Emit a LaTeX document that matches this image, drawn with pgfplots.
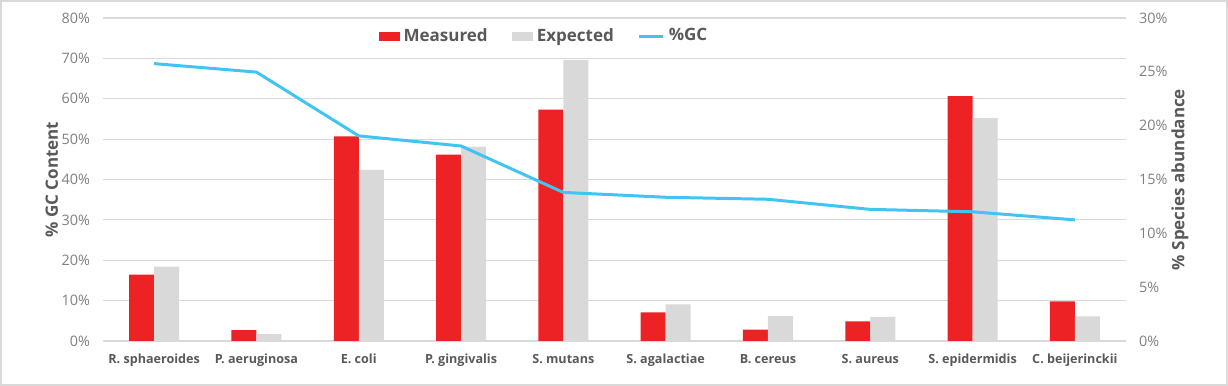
\documentclass[border=0pt]{standalone}
\usepackage{fontspec}
\setmainfont{Open Sans}
\usepackage{pgfplots}
\pgfplotsset{compat=1.18}
\definecolor{mred}{HTML}{ED2224}
\definecolor{mgrey}{HTML}{D9D9D9}
\definecolor{gcblue}{HTML}{41C4F4}
\definecolor{txt}{HTML}{595959}
\definecolor{ticktxt}{HTML}{7F7F7F}
\definecolor{gridc}{HTML}{D9D9D9}
\pgfplotsset{base/.style={at={(51.5pt,22.5pt)}, anchor=south west, scale only axis,
  width=511.5pt, height=161.5pt, xmin=-0.5, xmax=9.5,
  axis line style={draw=none}, major tick length=0pt, tick style={draw=none},
  ticklabel style={font=\fontsize{7.2}{8}\selectfont, text=ticktxt}}}
\begin{document}
\begin{tikzpicture}
\useasboundingbox (0,0) rectangle (614pt,193pt);
\draw[gray!30, line width=0.8pt] (0.4pt,0.4pt) rectangle (613.6pt,192.6pt);
\begin{axis}[base, ymin=0, ymax=80, ytick={0,10,...,80},
  yticklabels={0\%,10\%,20\%,30\%,40\%,50\%,60\%,70\%,80\%},
  ymajorgrids, grid style={gridc, line width=0.6pt},
  yticklabel style={xshift=-3pt},
  xtick={0,...,9},
  xticklabels={R. sphaeroides, P. aeruginosa, E. coli, P. gingivalis, S. mutans, S. agalactiae, B. cereus, S. aureus, S. epidermidis, C. beijerinckii},
  xticklabel style={font=\bfseries\fontsize{6.3}{8}\selectfont, text=txt, yshift=-3pt},
  ylabel={\% GC Content},
  ylabel style={font=\bfseries\fontsize{8.5}{9}\selectfont, text=txt, at={(axis description cs:-0.05,0.5)}, anchor=center}]
\end{axis}
\begin{axis}[base, ymin=0, ymax=30, ytick={0,5,...,30},
  yticklabels={0\%,5\%,10\%,15\%,20\%,25\%,30\%},
  yticklabel pos=right, yticklabel style={xshift=3pt},
  xtick=\empty, ybar=0pt, bar width=12.5pt,
  ylabel={\% Species abundance},
  ylabel style={font=\bfseries\fontsize{8.5}{9}\selectfont, text=txt, at={(axis description cs:1.0528,0.5)}, anchor=center},
  legend style={at={(0.432,0.944)}, anchor=center, draw=none, fill=none, legend columns=3,
    font=\bfseries\fontsize{8.5}{9}\selectfont, text=txt,
    /tikz/every even column/.append style={column sep=10pt}}]
\addplot[fill=mred, draw=none, legend image code/.code={\fill[mred] (0pt,-2.25pt) rectangle (10.5pt,2.25pt);}]
  coordinates {(0,6.17) (1,1.0) (2,19.0) (3,17.3) (4,21.5) (5,2.67) (6,1.06) (7,1.83) (8,22.75) (9,3.69)};
\addlegendentry{Measured}
\addplot[fill=mgrey, draw=none, legend image code/.code={\fill[mgrey] (0pt,-2.25pt) rectangle (10.5pt,2.25pt);}]
  coordinates {(0,6.9) (1,0.65) (2,15.9) (3,18.05) (4,26.1) (5,3.4) (6,2.3) (7,2.23) (8,20.7) (9,2.29)};
\addlegendentry{Expected}
\addlegendimage{legend image code/.code={\draw[gcblue, line width=1.5pt] (0pt,0pt) -- (12pt,0pt);}}
\addlegendentry{\%GC}
\end{axis}
\begin{axis}[base, ymin=0, ymax=80, hide axis]
\addplot[gcblue, line width=1.5pt, mark=none]
  coordinates {(0,68.7) (1,66.6) (2,50.8) (3,48.3) (4,36.8) (5,35.6) (6,35.1) (7,32.6) (8,32.0) (9,30.0)};
\end{axis}
\end{tikzpicture}
\end{document}
